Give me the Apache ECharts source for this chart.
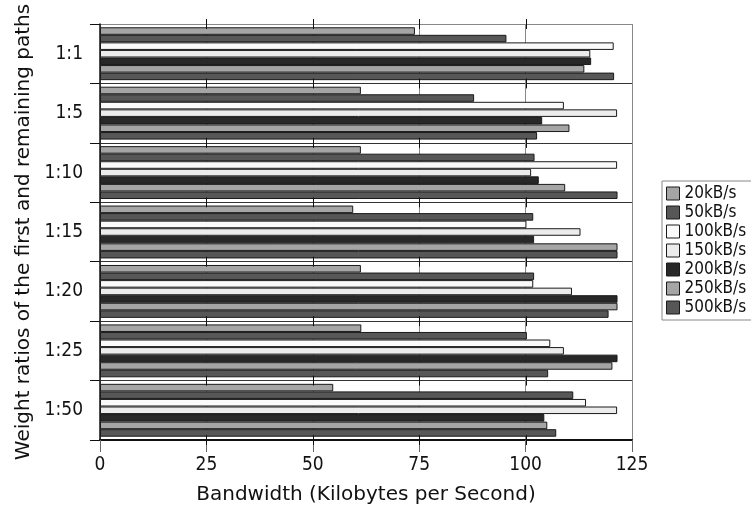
<!DOCTYPE html>
<html>
<head>
<meta charset="utf-8">
<script src="https://cdn.jsdelivr.net/npm/echarts@6/dist/echarts.min.js"></script>
<style>html,body{margin:0;padding:0;background:#fff}#c{width:751px;height:510px}</style>
</head>
<body>
<div id="c"></div>
<script>
const categories = ['1:1', '1:5', '1:10', '1:15', '1:20', '1:25', '1:50'];
const seriesNames = ['20kB/s', '50kB/s', '100kB/s', '150kB/s', '200kB/s', '250kB/s', '500kB/s'];
const s20  = [74.0, 61.3, 61.3, 59.5, 61.3, 61.4, 54.8];
const s50  = [95.5, 87.9, 102.1, 101.8, 102.0, 100.3, 111.2];
const s100 = [120.7, 109.0, 121.5, 100.2, 101.8, 105.8, 114.2];
const s150 = [115.2, 121.5, 101.3, 112.9, 110.9, 109.0, 121.5];
const s200 = [115.4, 103.9, 103.1, 102.0, 121.6, 121.6, 104.4];
const s250 = [113.8, 110.3, 109.3, 121.6, 121.6, 120.4, 105.1];
const s500 = [120.8, 102.7, 121.6, 121.6, 119.5, 105.3, 107.2];
const xTicks = [0, 25, 50, 75, 100, 125];

const values = [s20, s50, s100, s150, s200, s250, s500];
const colors = ['#a5a5a5', '#575757', '#fafafa', '#ececec', '#282828', '#a5a5a5', '#575757'];

const chart = echarts.init(document.getElementById('c'), null, {renderer: 'canvas'});
const condensed = '"DejaVu Sans Condensed", "DejaVu Sans", sans-serif';
const innerTicks = xTicks.slice(1, -1);

const barSeries = seriesNames.map((n, i) => ({
  name: n, type: 'bar', data: values[i],
  barGap: '0%', barCategoryGap: '11%',
  itemStyle: {color: colors[i], borderColor: '#1a1a1a', borderWidth: 1}
}));

// short dark marks where the gridlines cross the group separators
const sepMarks = {
  type: 'custom', silent: true, z: 5,
  encode: {x: 0, y: 1},
  data: categories.map((c, i) => [0, i]),
  renderItem: function (params, api) {
    const idx = api.value(1);
    const center = api.coord([0, idx]);
    const band = api.size([0, 1])[1];
    const ys = [center[1] - band / 2];
    if (idx === categories.length - 1) ys.push(center[1] + band / 2);
    const children = [];
    ys.forEach(y => innerTicks.forEach(v => {
      const x = Math.round(api.coord([v, idx])[0]) + 0.5;
      children.push({type: 'line', shape: {x1: x, y1: y - 5, x2: x, y2: y + 5},
        style: {stroke: '#111', lineWidth: 1}});
    }));
    return {type: 'group', children: children};
  }
};

chart.setOption({
  animation: false,
  backgroundColor: '#ffffff',
  grid: {left: 100, right: 119, top: 24, bottom: 70, containLabel: false},
  legend: {
    orient: 'vertical',
    left: 662, top: 181,
    data: seriesNames,
    icon: 'rect',
    itemWidth: 13, itemHeight: 13, itemGap: 2,
    padding: [4, 20, 4, 4],
    borderColor: '#888', borderWidth: 1,
    textStyle: {fontFamily: condensed, fontSize: 17, color: '#111', lineHeight: 16},
    itemStyle: {borderColor: '#1a1a1a', borderWidth: 1}
  },
  xAxis: {
    type: 'value', min: xTicks[0], max: xTicks[xTicks.length - 1], interval: 25,
    name: 'Bandwidth (Kilobytes per Second)', nameLocation: 'middle', nameGap: 45,
    nameTextStyle: {fontFamily: '"DejaVu Sans", sans-serif', fontSize: 20, color: '#111'},
    axisLine: {show: true, lineStyle: {color: '#111', width: 2}},
    axisTick: {show: true, length: 12, lineStyle: {color: '#666'}},
    axisLabel: {fontFamily: condensed, fontSize: 19, color: '#111', margin: 16},
    splitLine: {show: true, lineStyle: {color: '#888', width: 1}}
  },
  yAxis: {
    type: 'category', data: categories, inverse: true,
    name: 'Weight ratios of the first and remaining paths', nameLocation: 'middle', nameGap: 66,
    nameTextStyle: {fontFamily: '"DejaVu Sans", sans-serif', fontSize: 20, color: '#111'},
    axisLine: {show: true, lineStyle: {color: '#111', width: 1.5}},
    axisTick: {show: true, length: 10, lineStyle: {color: '#111'}},
    axisLabel: {fontFamily: condensed, fontSize: 19, color: '#111', margin: 17},
    splitLine: {show: true, lineStyle: {color: ['#888', '#333', '#333', '#333', '#333', '#333', '#333', '#333'], width: 1}}
  },
  series: barSeries.concat([sepMarks])
});
</script>
</body>
</html>
